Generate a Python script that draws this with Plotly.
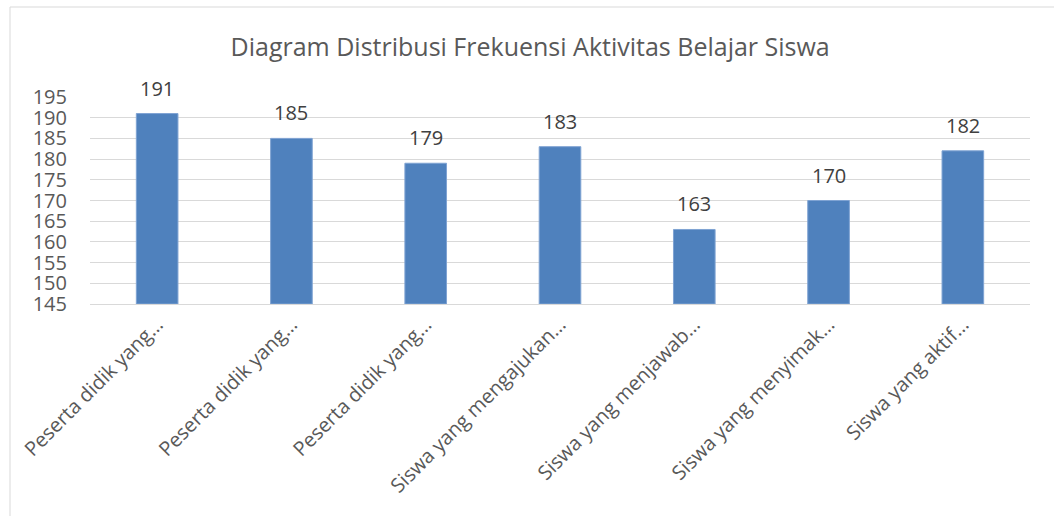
import plotly.graph_objects as go

categories = ["Peserta didik yang…", "Peserta didik yang…", "Peserta didik yang…",
              "Siswa yang mengajukan…", "Siswa yang menjawab…", "Siswa yang menyimak…",
              "Siswa yang aktif…"]
values = [191, 185, 179, 183, 163, 170, 182]
y_ticks = [145, 150, 155, 160, 165, 170, 175, 180, 185, 190, 195]

pos = list(range(len(categories)))
W, H = 1054, 516
ml, mr, mt, mb = 90, 24, 97, 212
pw, ph = W - ml - mr, H - mt - mb
base = y_ticks[0]

fig = go.Figure(go.Bar(
    x=pos, y=[v - base for v in values], base=base,
    marker=dict(color="#4F81BD", line=dict(color="#7FA3D3", width=1)),
    width=0.31, hoverinfo="skip"))

for p, v in zip(pos, values):
    fig.add_annotation(x=p, y=v, text=str(v), showarrow=False, yanchor="bottom",
                       yshift=10, font=dict(family="Open Sans", size=20, color="#404040"))

fig.add_shape(type="rect", xref="paper", yref="paper",
              x0=(10 - ml) / pw, x1=(1060 - ml) / pw,
              y0=-(H + 10 - mt - ph) / ph, y1=1 + (mt - 7) / ph,
              line=dict(color="#D9D9D9", width=1), layer="below")

fig.update_layout(
    width=W, height=H, margin=dict(l=ml, r=mr, t=mt, b=mb),
    plot_bgcolor="white", paper_bgcolor="white", showlegend=False,
    title=dict(text="Diagram Distribusi Frekuensi Aktivitas Belajar Siswa",
               x=0.503, xanchor="center", y=1 - 47 / H, yanchor="middle",
               font=dict(family="Open Sans", size=25, color="#595959")),
    xaxis=dict(tickvals=pos, ticktext=categories, tickangle=-45, range=[-0.5, 6.5],
               showgrid=False, showline=True, linecolor="#D9D9D9", ticks="",
               tickfont=dict(family="Open Sans", size=20, color="#595959")),
    yaxis=dict(range=[145, 195], tickvals=y_ticks, showgrid=True, gridcolor="#D9D9D9",
               zeroline=False, ticks="", ticklabelstandoff=22,
               tickfont=dict(family="Open Sans", size=20, color="#595959")),
)
fig.write_html("out.html")
